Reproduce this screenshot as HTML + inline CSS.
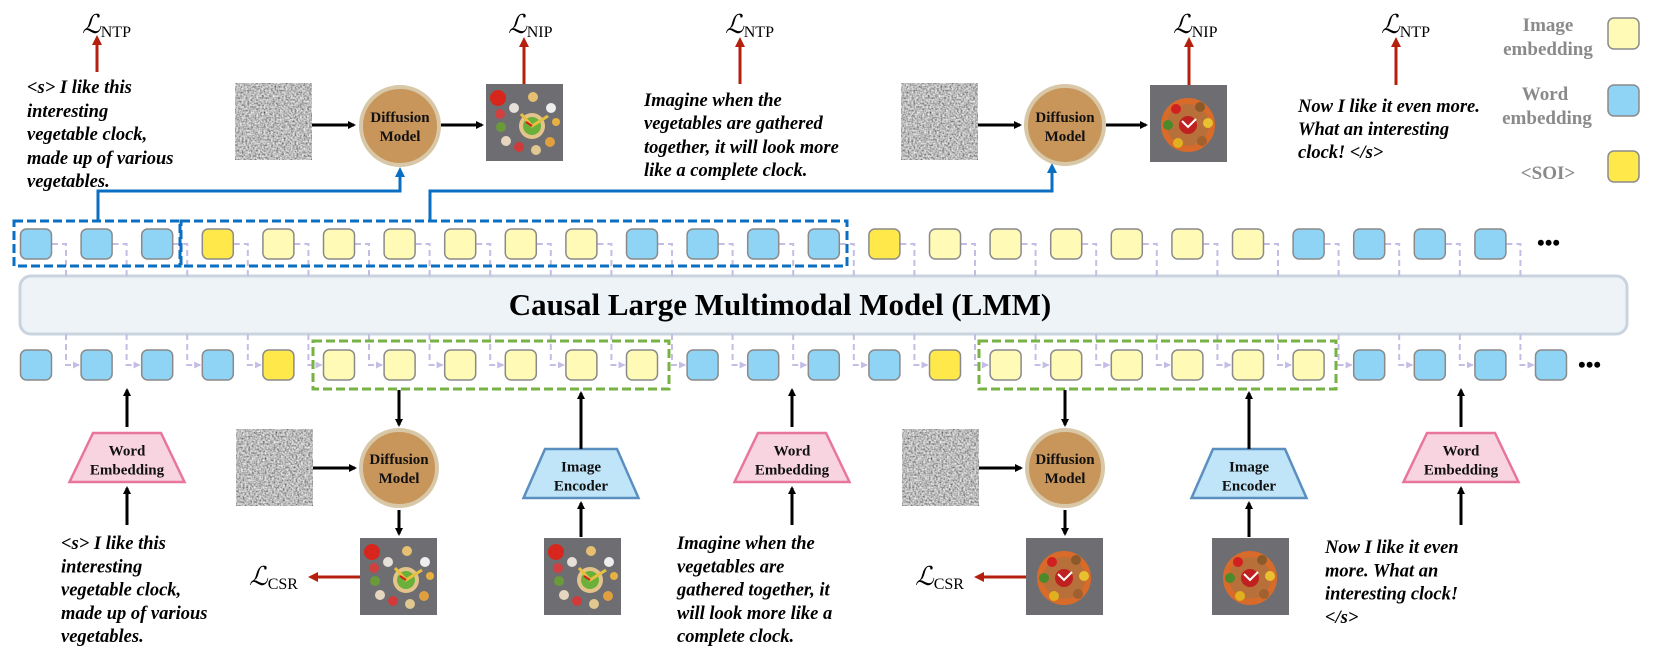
<!DOCTYPE html>
<html><head><meta charset="utf-8"><style>
html,body{margin:0;padding:0;background:#fff}
svg{display:block}
.t{font-family:"Liberation Serif",serif;font-weight:bold;font-style:italic;font-size:18.5px;fill:#000}
.b{font-family:"Liberation Serif",serif;font-weight:bold;font-size:15px;fill:#111}
.lg{font-family:"Liberation Serif",serif;font-weight:bold;font-size:19px;fill:#8a8a8a}
.L{font-family:"Liberation Serif",serif;font-style:italic;font-size:26px}
.s{font-family:"Liberation Serif",serif;font-style:normal;font-size:16px}
</style></head><body>
<svg id="s" width="1661" height="652" viewBox="0 0 1661 652" xmlns="http://www.w3.org/2000/svg">
<defs>
<filter id="nz" x="0" y="0" width="100%" height="100%">
<feTurbulence type="fractalNoise" baseFrequency="0.55" numOctaves="2" seed="3"/>
<feColorMatrix type="matrix" values="1.2 0 0 0 -0.1  1.2 0 0 0 -0.1  1.2 0 0 0 -0.1  0 0 0 0 1"/>
</filter>
<marker id="ak" markerWidth="8" markerHeight="8" refX="6" refY="4" orient="auto" markerUnits="userSpaceOnUse"><path d="M0,0 L8,4 L0,8 z" fill="#000"/></marker>
<marker id="ar" markerWidth="10" markerHeight="10" refX="7" refY="5" orient="auto" markerUnits="userSpaceOnUse"><path d="M0,0 L10,5 L0,10 z" fill="#b5200e"/></marker>
<marker id="ab" markerWidth="10" markerHeight="10" refX="7" refY="5" orient="auto" markerUnits="userSpaceOnUse"><path d="M0,0 L10,5 L0,10 z" fill="#0a6fc2"/></marker>
<marker id="ap" markerWidth="7" markerHeight="7" refX="6" refY="3.5" orient="auto" markerUnits="userSpaceOnUse"><path d="M0,0 L7,3.5 L0,7 z" fill="#c5bde6"/></marker>
<g id="noise"><rect width="77" height="77" fill="#888"/><rect width="77" height="77" filter="url(#nz)" fill="#888"/></g>
<g id="img1"><rect width="77" height="77" fill="#6e6e72"/>
<circle cx="12" cy="14" r="8" fill="#d8261c"/><circle cx="28" cy="24" r="5" fill="#e6e0d8"/><circle cx="14" cy="30" r="5" fill="#d04040"/><circle cx="15" cy="43" r="5" fill="#6a9a3a"/><circle cx="20" cy="57" r="5" fill="#e6d6c0"/><circle cx="33" cy="63" r="5" fill="#d03a3a"/><circle cx="50" cy="66" r="5" fill="#e0c890"/><circle cx="64" cy="58" r="5" fill="#e0a040"/><circle cx="70" cy="38" r="4" fill="#e8b040"/><circle cx="65" cy="24" r="5" fill="#eee"/><circle cx="47" cy="13" r="5" fill="#e6c070"/>
<circle cx="46" cy="42" r="13" fill="#e4c48a"/><circle cx="46" cy="42" r="9" fill="#6ab03a"/><path d="M35,30 L46,42 L62,32" stroke="#e8c040" stroke-width="3" fill="none"/><path d="M40,38 L46,42" stroke="#d02020" stroke-width="2"/></g>
<g id="img2"><rect width="77" height="77" fill="#6e6e72"/>
<circle cx="38" cy="40" r="24" fill="#b8703a"/><circle cx="38" cy="40" r="24" fill="none" stroke="#d86a2a" stroke-width="6"/><circle cx="26" cy="24" r="5" fill="#d02020"/><circle cx="50" cy="22" r="5" fill="#8a5a2a"/><circle cx="58" cy="38" r="5" fill="#e8c030"/><circle cx="52" cy="56" r="5" fill="#a06030"/><circle cx="28" cy="58" r="5" fill="#e0b020"/><circle cx="18" cy="40" r="5" fill="#4a8a2a"/><circle cx="38" cy="40" r="9" fill="#c02020"/><path d="M32,36 L38,42 L46,34" stroke="#fff" stroke-width="2" fill="none"/></g>
</defs>

<rect x="20" y="276" width="1607" height="58" rx="11" fill="#eef3f8" stroke="#c9d4df" stroke-width="3"/>
<text x="780" y="315" text-anchor="middle" font-family="Liberation Serif,serif" font-weight="bold" font-size="31">Causal Large Multimodal Model (LMM)</text>

<g id="conn" stroke="#c5bde6" stroke-width="2" stroke-dasharray="6,4" fill="none"></g>
<g id="cells"></g>

<rect x="14" y="221" width="166" height="45" fill="none" stroke="#0a6fc2" stroke-width="3" stroke-dasharray="9,4"/>
<rect x="181" y="221" width="666" height="45" fill="none" stroke="#0a6fc2" stroke-width="3" stroke-dasharray="9,4"/>
<rect x="313" y="341" width="356" height="48" fill="none" stroke="#77b244" stroke-width="3" stroke-dasharray="9,4"/>
<rect x="979" y="341" width="357" height="48" fill="none" stroke="#77b244" stroke-width="3" stroke-dasharray="9,4"/>
<text x="1537" y="250" font-size="22" font-family="Liberation Serif,serif" font-weight="bold">•••</text>
<text x="1578" y="372" font-size="22" font-family="Liberation Serif,serif" font-weight="bold">•••</text>

<path d="M98,221 V191 H400 V170" stroke="#0a6fc2" stroke-width="3" fill="none" marker-end="url(#ab)"/>
<path d="M430,221 V191 H1052 V166" stroke="#0a6fc2" stroke-width="3" fill="none" marker-end="url(#ab)"/>

<text x="82" y="33" class="L">ℒ<tspan class="s" dy="4">NTP</tspan></text>
<line x1="97" y1="72" x2="97" y2="38" stroke="#b5200e" stroke-width="3" marker-end="url(#ar)"/>
<text class="t" x="27" y="93">&lt;s&gt; I like this</text>
<text class="t" x="27" y="117">interesting</text>
<text class="t" x="27" y="140">vegetable clock,</text>
<text class="t" x="27" y="164">made up of various</text>
<text class="t" x="27" y="187">vegetables.</text>
<use href="#noise" x="235" y="83"/>
<line x1="312" y1="125" x2="354" y2="125" stroke="#000" stroke-width="3" marker-end="url(#ak)"/>
<circle cx="400" cy="126" r="39" fill="#c8955a" stroke="#d8c8a8" stroke-width="4"/>
<text class="b" x="400" y="122" text-anchor="middle">Diffusion</text><text class="b" x="400" y="141" text-anchor="middle">Model</text>
<line x1="441" y1="125" x2="482" y2="125" stroke="#000" stroke-width="3" marker-end="url(#ak)"/>
<use href="#img1" x="486" y="84"/>
<text x="508" y="33" class="L">ℒ<tspan class="s" dy="4">NIP</tspan></text>
<line x1="524" y1="84" x2="524" y2="40" stroke="#b5200e" stroke-width="3" marker-end="url(#ar)"/>

<text x="725" y="33" class="L">ℒ<tspan class="s" dy="4">NTP</tspan></text>
<line x1="740" y1="84" x2="740" y2="40" stroke="#b5200e" stroke-width="3" marker-end="url(#ar)"/>
<text class="t" x="644" y="106">Imagine when the</text>
<text class="t" x="644" y="129">vegetables are gathered</text>
<text class="t" x="644" y="153">together, it will look more</text>
<text class="t" x="644" y="176">like a complete clock.</text>
<use href="#noise" x="901" y="83"/>
<line x1="978" y1="125" x2="1020" y2="125" stroke="#000" stroke-width="3" marker-end="url(#ak)"/>
<circle cx="1065" cy="125" r="39" fill="#c8955a" stroke="#d8c8a8" stroke-width="4"/>
<text class="b" x="1065" y="122" text-anchor="middle">Diffusion</text><text class="b" x="1065" y="141" text-anchor="middle">Model</text>
<line x1="1106" y1="125" x2="1146" y2="125" stroke="#000" stroke-width="3" marker-end="url(#ak)"/>
<use href="#img2" x="1150" y="85"/>
<text x="1173" y="33" class="L">ℒ<tspan class="s" dy="4">NIP</tspan></text>
<line x1="1189" y1="85" x2="1189" y2="40" stroke="#b5200e" stroke-width="3" marker-end="url(#ar)"/>

<text x="1381" y="33" class="L">ℒ<tspan class="s" dy="4">NTP</tspan></text>
<line x1="1396" y1="85" x2="1396" y2="40" stroke="#b5200e" stroke-width="3" marker-end="url(#ar)"/>
<text class="t" x="1298" y="112">Now I like it even more.</text>
<text class="t" x="1298" y="135">What an interesting</text>
<text class="t" x="1298" y="158">clock! &lt;/s&gt;</text>

<text class="lg" x="1548" y="31" text-anchor="middle">Image</text>
<text class="lg" x="1548" y="55" text-anchor="middle">embedding</text>
<rect x="1608" y="18" width="31" height="31" rx="6" fill="#fffab5" stroke="#8a8a8a" stroke-width="1.5"/>
<text class="lg" x="1545" y="100" text-anchor="middle">Word</text>
<text class="lg" x="1547" y="124" text-anchor="middle">embedding</text>
<rect x="1608" y="85" width="31" height="31" rx="6" fill="#8fd4f5" stroke="#8a8a8a" stroke-width="1.5"/>
<text class="lg" x="1548" y="179" text-anchor="middle">&lt;SOI&gt;</text>
<rect x="1608" y="151" width="31" height="31" rx="6" fill="#ffe84a" stroke="#8a8a8a" stroke-width="1.5"/>

<g id="bot"></g>
</svg>
<script>
(function(){
var NS="http://www.w3.org/2000/svg";
function el(p,n,a){var e=document.createElementNS(NS,n);for(var k in a)e.setAttribute(k,a[k]);p.appendChild(e);return e;}
var cells=document.getElementById('cells'),conn=document.getElementById('conn');
var C={b:"#8fd4f5",l:"#fffab5",y:"#ffe84a"};
var topRow="bbbyllllllbbbbyllllllbbbb", botRow="bbbbyllllllbbbbyllllllbbbb";
function cx(k){return 36+60.6*k;}
for(var k=0;k<topRow.length;k++){var c=cx(k);
 el(cells,'rect',{x:c-15.5,y:229,width:31,height:30,rx:6,fill:C[topRow[k]],stroke:"#8a8a8a","stroke-width":1.5});
 el(conn,'path',{d:"M"+(c+16)+",244 H"+(c+30)+" V276"});}
for(var k=0;k<botRow.length;k++){var c=cx(k);
 el(cells,'rect',{x:c-15.5,y:350,width:31,height:30,rx:6,fill:C[botRow[k]],stroke:"#8a8a8a","stroke-width":1.5});
 if(k<botRow.length-1) el(conn,'path',{d:"M"+(c+30)+",334 V365 H"+(c+43),"marker-end":"url(#ap)"});}
var b=document.getElementById('bot');
function arrow(x1,y1,x2,y2,m,col){el(b,'line',{x1:x1,y1:y1,x2:x2,y2:y2,stroke:col||"#000","stroke-width":3,"marker-end":"url(#"+(m||"ak")+")"});}
function tex(x,y,s){var t=el(b,'text',{x:x,y:y,"class":"t"});t.textContent=s;}
function trap(cxp,y,w1,w2,h,f,s,l1,l2){el(b,'path',{d:"M"+(cxp-w1/2)+","+y+" H"+(cxp+w1/2)+" L"+(cxp+w2/2)+","+(y+h)+" H"+(cxp-w2/2)+" Z",fill:f,stroke:s,"stroke-width":2.5});
 var t=el(b,'text',{x:cxp,y:y+h/2-2,"class":"b","text-anchor":"middle"});t.textContent=l1;
 t=el(b,'text',{x:cxp,y:y+h/2+17,"class":"b","text-anchor":"middle"});t.textContent=l2;}
function use(id,x,y){el(b,'use',{href:"#"+id,x:x,y:y});}
function diff(cxp){el(b,'circle',{cx:cxp,cy:468,r:38,fill:"#c8955a",stroke:"#d8c8a8","stroke-width":4});
 var t=el(b,'text',{x:cxp,y:464,"class":"b","text-anchor":"middle"});t.textContent="Diffusion";
 t=el(b,'text',{x:cxp,y:483,"class":"b","text-anchor":"middle"});t.textContent="Model";}
function Lcsr(x,y){var t=el(b,'text',{x:x,y:y,"class":"L"});t.textContent="ℒ";var s=el(t,'tspan',{"class":"s",dy:4});s.textContent="CSR";}
[[127,["<s> I like this","interesting","vegetable clock,","made up of various","vegetables."],61,549],
 [792,["Imagine when the","vegetables are","gathered together, it","will look more like a","complete clock."],677,549],
 [1461,["Now I like it even","more. What an","interesting clock!","</s>"],1325,553]].forEach(function(w){
 trap(w[0],433,68,115,49,"#f8d4e0","#e8769a","Word","Embedding");
 arrow(w[0],525,w[0],488);arrow(w[0],427,w[0],390);
 for(var i=0;i<w[1].length;i++)tex(w[2],w[3]+i*23.3,w[1][i]);});
[[399,236,"img1",544,581],[1065,902,"img2",1212,1249]].forEach(function(d){
 use("noise",d[1],429);arrow(d[1]+77,468,d[0]-44,468);diff(d[0]);
 arrow(d[0],390,d[0],425);arrow(d[0],510,d[0],534);
 use(d[2],d[0]-39,538);arrow(d[0]-39,577,d[0]-88,577,"ar","#b5200e");Lcsr(d[0]-150,585);
 trap(d[4],449,72,115,49,"#c0e4f8","#5a8fc0","Image","Encoder");
 use(d[2],d[3],538);arrow(d[4],537,d[4],503);arrow(d[4],449,d[4],393);});
})();
</script>
</body></html>
